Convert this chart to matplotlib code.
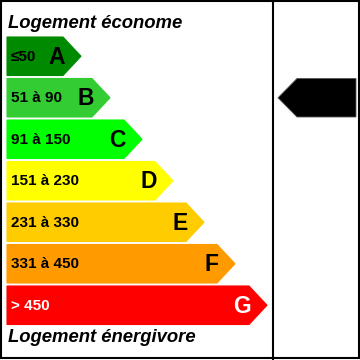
import matplotlib.pyplot as plt
from matplotlib.patches import Polygon, Rectangle

classes = ["A", "B", "C", "D", "E", "F", "G"]
ranges = ["≤50", "51 à 90", "91 à 150", "151 à 230", "231 à 330", "331 à 450", "> 450"]
colors = ["#008a00", "#33cc33", "#00ff00", "#ffff00", "#ffcc00", "#ff9a00", "#ff0000"]
text_colors = ["black"] * 6 + ["white"]
tips = [81, 110, 142, 173, 204, 235, 267]
current = "B"

plt.rcParams["font.family"] = ["Liberation Sans", "DejaVu Sans"]

fig = plt.figure(figsize=(3.6, 3.6), dpi=100)
ax = fig.add_axes([0, 0, 1, 1])
ax.set_xlim(0, 360)
ax.set_ylim(360, 0)
ax.axis("off")

# frame and divider
ax.add_patch(Rectangle((1, 1), 357.5, 357, fill=False, lw=1.5, ec="black"))
ax.plot([273, 273], [0, 360], color="black", lw=1.5)

top0, step, h, depth = 37, 41.5, 38.5, 18
for i, (c, r, col, tc, tip) in enumerate(zip(classes, ranges, colors, text_colors, tips)):
    y0 = top0 + i * step
    y1 = y0 + h
    ym = (y0 + y1) / 2
    pts = [(7, y0), (tip - depth, y0), (tip, ym), (tip - depth, y1), (7, y1)]
    ax.add_patch(Polygon(pts, closed=True, fc=col, ec=col, lw=0.8))
    ax.text(11, ym + 0.5, r, fontsize=11, fontweight="bold", color=tc,
            ha="left", va="center")
    ax.text(tip - 16, ym + 1, c, fontsize=16.5, fontweight="bold", color=tc,
            ha="right", va="center")
    if c == current:
        arrow = [(278, ym), (297, y0), (356, y0), (356, y1), (297, y1)]
        ax.add_patch(Polygon(arrow, closed=True, fc="black", ec="#555555", lw=0.6))

ax.text(8, 23, "Logement économe", fontsize=13.3, fontweight="bold",
        fontstyle="italic", ha="left", va="center")
ax.text(8, 337, "Logement énergivore", fontsize=13.3, fontweight="bold",
        fontstyle="italic", ha="left", va="center")

fig.savefig("out.png", dpi=100)
